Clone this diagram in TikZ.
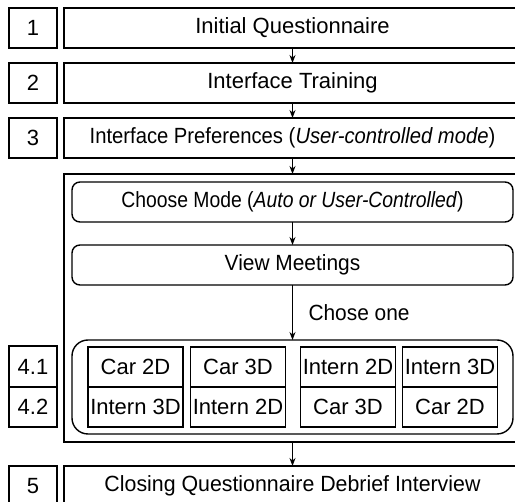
\documentclass[tikz,border=0pt]{standalone}
\usepackage{fontspec}
\usepackage{graphicx}
\setmainfont{Liberation Sans}
\usetikzlibrary{arrows.meta}
\begin{document}
\begin{tikzpicture}[x=1pt,y=-1pt,
  every node/.style={inner sep=0pt,outer sep=0pt,font=\fontsize{22}{25}\selectfont},
  box/.style={draw,line width=1.4pt,minimum height=40pt},
  mainbox/.style={box,minimum width=457pt},
  numbox/.style={box,minimum width=48pt},
  rbox/.style={box,rounded corners=8pt,minimum width=441pt},
  cell/.style={draw,line width=1.3pt,minimum width=95pt,minimum height=40pt},
  arr/.style={line width=1.1pt,-{Stealth[length=8pt,width=6pt]}}]
\useasboundingbox (0,0) rectangle (515,502);
\clip (0,0) rectangle (515,502);
% rows
\node[numbox] (n1) at (33,28) {1};
\node[mainbox] (b1) at (292.5,28) {Initial Questionnaire};
\node[numbox] (n2) at (33,83) {2};
\node[mainbox] (b2) at (292.5,83) {Interface Training};
\node[numbox] (n3) at (33,138) {3};
\node[mainbox] (b3) at (292.5,138) {\scalebox{0.92}[1]{Interface Preferences (\textit{User-controlled mode})}};
\node[box,minimum width=457pt,minimum height=268pt] (b4) at (292.5,308) {};
\node[rbox] (cm) at (292.5,202) {\scalebox{0.88}[1]{Choose Mode (\textit{Auto or User-Controlled})}};
\node[rbox] (vm) at (292.5,265) {\scalebox{0.95}[1]{View Meetings}};
\node[box,rounded corners=16pt,minimum width=441pt,minimum height=94pt] (ct) at (292.5,387) {};
\node[numbox,minimum height=41pt] (n41) at (33,366.5) {4.1};
\node[numbox] (n42) at (33,407) {4.2};
% cells
\node[cell] (c1a) at (135.5,367) {Car 2D};
\node[cell] (c1b) at (135.5,407) {Intern 3D};
\node[cell] (c2a) at (238,367) {Car 3D};
\node[cell] (c2b) at (238,407) {Intern 2D};
\node[cell] (c3a) at (348,367) {Intern 2D};
\node[cell] (c3b) at (348,407) {Car 3D};
\node[cell] (c4a) at (450,367) {Intern 3D};
\node[cell] (c4b) at (450,407) {Car 2D};
\node[numbox] (n5) at (33,486) {5};
\node[mainbox] (b5) at (292.5,486) {\scalebox{0.97}[1]{Closing Questionnaire Debrief Interview}};
% arrows
\draw[arr] (b1.south) -- (b2.north);
\draw[arr] (b2.south) -- (b3.north);
\draw[arr] (b3.south) -- (b4.north);
\draw[arr] (cm.south) -- (vm.north);
\draw[arr] (vm.south) -- node[right=16pt] {\scalebox{0.95}[1]{Chose one}} (ct.north);
\draw[arr] (b4.south) -- (b5.north);
\end{tikzpicture}
\end{document}
